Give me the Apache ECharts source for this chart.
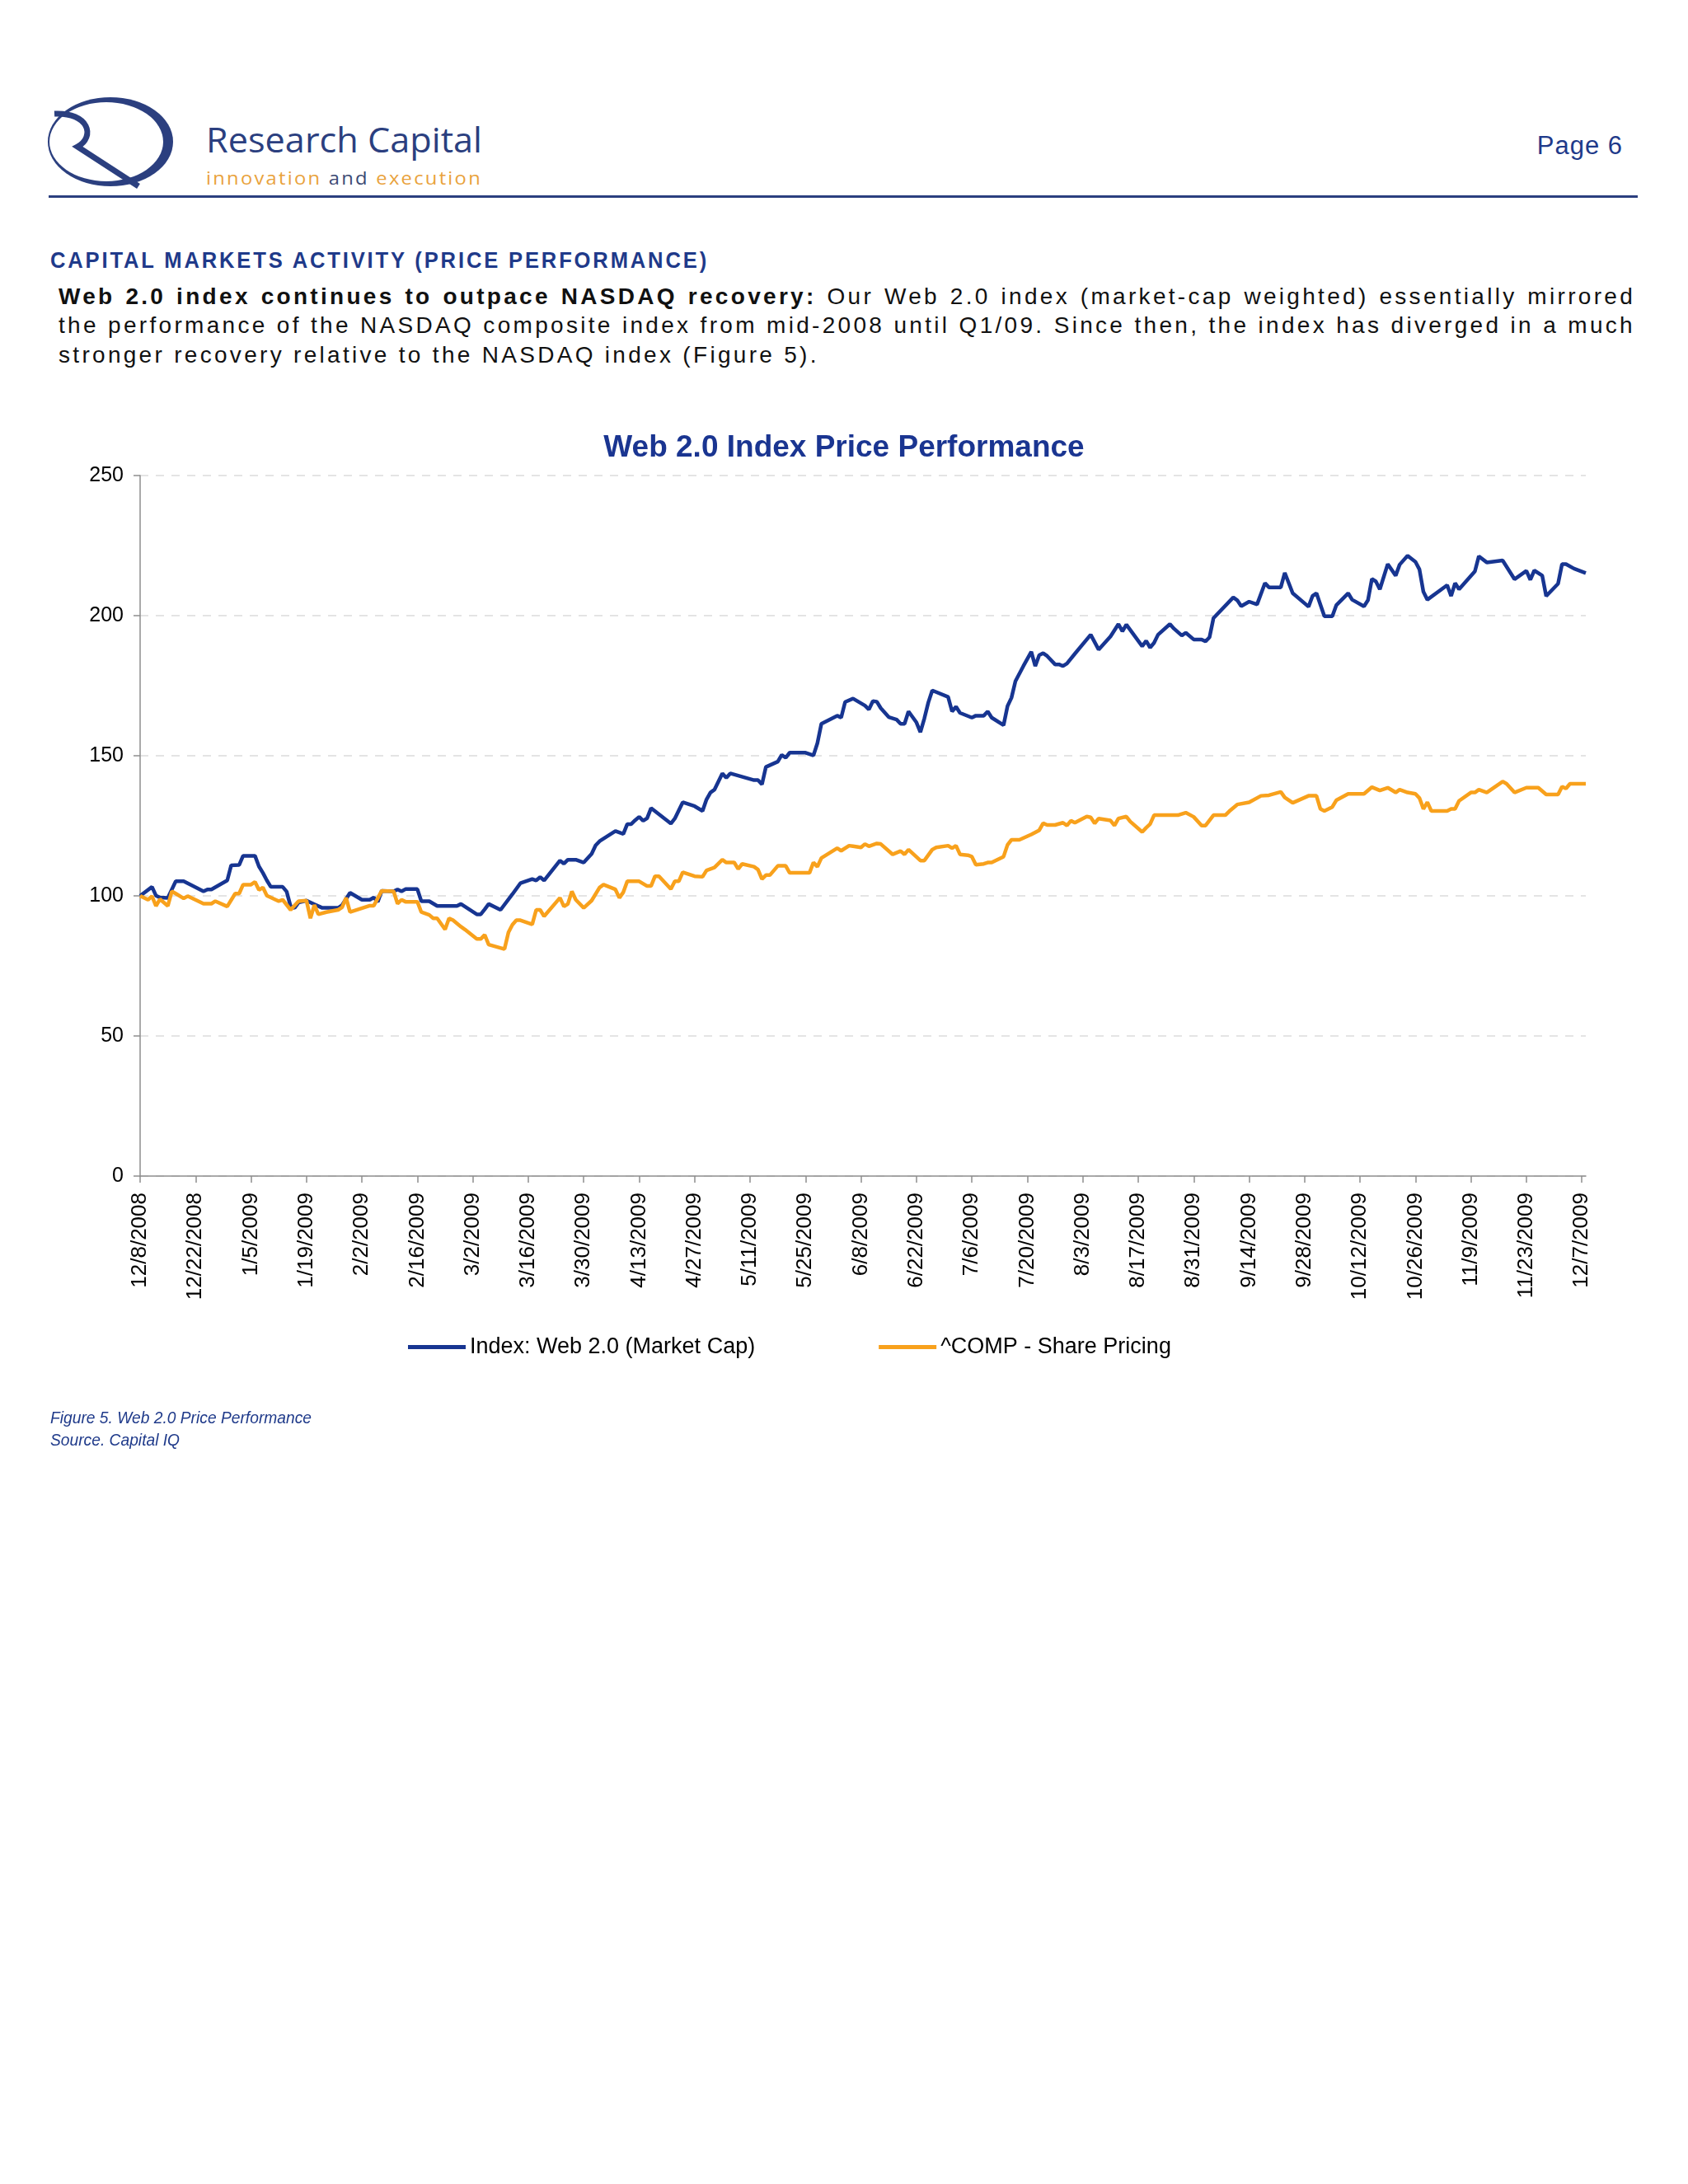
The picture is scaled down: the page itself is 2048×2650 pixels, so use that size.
<!DOCTYPE html>
<html>
<head>
<meta charset="utf-8">
<script src="https://cdn.jsdelivr.net/npm/echarts/dist/echarts.min.js"></script>
<style>
html,body{margin:0;padding:0;background:#ffffff;}
body{width:2048px;height:2650px;position:relative;overflow:hidden;font-family:"Liberation Sans",Arial,Helvetica,sans-serif;}
.abs{position:absolute;white-space:nowrap;}
.fit{display:inline-block;transform-origin:0 0;}
#rc{left:250px;top:145px;font-family:"Open Sans","Noto Sans",sans-serif;font-size:42px;line-height:48px;color:#2b3f7f;}
#tag{left:250px;top:204px;font-family:"Open Sans","Noto Sans",sans-serif;font-size:21px;line-height:24px;color:#e9a23b;letter-spacing:2px;}
#tag span{color:#3b4a74;}
#page{right:79px;top:159px;font-size:31px;line-height:36px;color:#1f3a8a;letter-spacing:1px;}
#rule{left:59px;top:237px;width:1928px;height:3px;background:#2b3f7f;}
#sec{left:61px;top:300px;font-size:27px;line-height:32px;font-weight:bold;color:#1f3a8a;letter-spacing:3px;}
.pl{position:absolute;left:71px;width:1913px;font-size:28px;line-height:36px;color:#111;letter-spacing:3.3px;white-space:nowrap;}
.j{text-align:justify;text-align-last:justify;white-space:normal;}
#cap{left:61px;top:1706px;font-size:21px;line-height:27px;font-style:italic;color:#1f3a8a;}
#chart{position:absolute;left:0;top:480px;width:2048px;height:1240px;}
</style>
</head>
<body>
<svg class="abs" style="left:0;top:0" width="260" height="260" viewBox="0 0 260 260">
  <ellipse cx="134" cy="172" rx="76" ry="54" fill="#2b3f7f"/>
  <ellipse cx="129" cy="172" rx="69" ry="48" fill="#ffffff"/>
  <path d="M 66 138 C 108 136, 116 166, 94 178 L 168 226" fill="none" stroke="#2b3f7f" stroke-width="7"/>
</svg>
<div id="rc" class="abs fit">Research Capital</div>
<div id="tag" class="abs fit">innovation <span>and</span> execution</div>
<div id="page" class="abs">Page 6</div>
<div id="rule" class="abs"></div>
<div id="sec" class="abs fit">CAPITAL MARKETS ACTIVITY (PRICE PERFORMANCE)</div>
<div class="pl j" style="top:342px;"><b>Web 2.0 index continues to outpace NASDAQ recovery:</b> Our Web 2.0 index (market-cap weighted) essentially mirrored</div>
<div class="pl j" style="top:377px;">the performance of the NASDAQ composite index from mid-2008 until Q1/09. Since then, the index has diverged in a much</div>
<div class="pl" style="top:413px;">stronger recovery relative to the NASDAQ index (Figure 5).</div>
<div id="chart"></div>
<div id="cap" class="abs fit">Figure 5. Web 2.0 Price Performance<br>Source. Capital IQ</div>
<script>
// ---- Data ----
const xTickLabels = ['12/8/2008','12/22/2008','1/5/2009','1/19/2009','2/2/2009','2/16/2009','3/2/2009','3/16/2009','3/30/2009','4/13/2009','4/27/2009','5/11/2009','5/25/2009','6/8/2009','6/22/2009','7/6/2009','7/20/2009','8/3/2009','8/17/2009','8/31/2009','9/14/2009','9/28/2009','10/12/2009','10/26/2009','11/9/2009','11/23/2009','12/7/2009'];
const yTicks = [0,50,100,150,200,250];
const seriesNames = ['Index: Web 2.0 (Market Cap)','^COMP - Share Pricing'];

const webDates = [
'12/8/2008','12/11/2008','12/12/2008','12/13/2008','12/15/2008','12/17/2008','12/19/2008','12/24/2008','12/25/2008','12/26/2008','12/30/2008','12/31/2008',
'1/2/2009','1/3/2009','1/6/2009','1/7/2009','1/8/2009','1/9/2009','1/10/2009','1/13/2009','1/14/2009','1/15/2009','1/16/2009','1/17/2009','1/19/2009','1/21/2009','1/23/2009','1/27/2009','1/28/2009','1/30/2009',
'2/2/2009','2/4/2009','2/5/2009','2/6/2009','2/7/2009','2/10/2009','2/11/2009','2/12/2009','2/13/2009','2/16/2009','2/17/2009','2/19/2009','2/21/2009','2/26/2009','2/27/2009',
'3/3/2009','3/4/2009','3/5/2009','3/6/2009','3/9/2009','3/12/2009','3/14/2009','3/17/2009','3/18/2009','3/19/2009','3/20/2009','3/24/2009','3/25/2009','3/26/2009','3/28/2009','3/30/2009',
'4/1/2009','4/2/2009','4/3/2009','4/7/2009','4/9/2009','4/10/2009','4/11/2009','4/12/2009','4/13/2009','4/14/2009','4/15/2009','4/16/2009','4/21/2009','4/22/2009','4/24/2009','4/27/2009','4/29/2009','4/30/2009',
'5/1/2009','5/2/2009','5/4/2009','5/5/2009','5/6/2009','5/8/2009','5/12/2009','5/13/2009','5/14/2009','5/15/2009','5/18/2009','5/19/2009','5/20/2009','5/21/2009','5/25/2009','5/27/2009','5/28/2009','5/29/2009',
'6/2/2009','6/3/2009','6/4/2009','6/6/2009','6/9/2009','6/10/2009','6/11/2009','6/12/2009','6/13/2009','6/15/2009','6/17/2009','6/18/2009','6/19/2009','6/20/2009','6/22/2009','6/23/2009','6/24/2009','6/25/2009','6/26/2009','6/30/2009',
'7/1/2009','7/2/2009','7/3/2009','7/6/2009','7/7/2009','7/9/2009','7/10/2009','7/11/2009','7/14/2009','7/15/2009','7/16/2009','7/17/2009','7/19/2009','7/21/2009','7/22/2009','7/23/2009','7/24/2009','7/25/2009','7/27/2009','7/28/2009','7/29/2009','7/30/2009',
'8/1/2009','8/5/2009','8/7/2009','8/10/2009','8/12/2009','8/13/2009','8/14/2009','8/18/2009','8/19/2009','8/20/2009','8/21/2009','8/22/2009','8/25/2009','8/26/2009','8/28/2009','8/29/2009','8/31/2009',
'9/2/2009','9/3/2009','9/4/2009','9/5/2009','9/10/2009','9/11/2009','9/12/2009','9/14/2009','9/16/2009','9/18/2009','9/19/2009','9/22/2009','9/23/2009','9/25/2009','9/29/2009','9/30/2009',
'10/1/2009','10/3/2009','10/5/2009','10/6/2009','10/9/2009','10/10/2009','10/13/2009','10/14/2009','10/15/2009','10/16/2009','10/17/2009','10/19/2009','10/21/2009','10/22/2009','10/24/2009','10/26/2009','10/27/2009','10/28/2009','10/29/2009',
'11/3/2009','11/4/2009','11/5/2009','11/6/2009','11/10/2009','11/11/2009','11/13/2009','11/17/2009','11/20/2009','11/23/2009','11/24/2009','11/25/2009','11/27/2009','11/28/2009',
'12/1/2009','12/2/2009','12/3/2009','12/5/2009','12/8/2009'
];
const webValues = [
100,103.2,100.1,99.4,99.3,105.2,105.2,101.6,102.3,102.3,105.5,110.9,
111,114.3,114.3,110.5,108.2,105.5,103.2,103.2,101.5,96.2,95.7,97.6,98.3,97,95.7,95.7,96.7,101.1,
98.6,98.6,99.4,97.9,101.8,101.6,102.3,101.6,102.4,102.4,98.1,98.1,96.4,96.4,97.1,
93.4,93.4,95.2,97.1,95,100.6,104.5,106,105.5,106.7,105.5,112.6,111.5,112.9,112.9,111.9,
115,118,119.5,123.1,122.1,125.6,125.6,127,128.2,126.8,127.7,131.3,125.8,127.6,133.4,132,130.3,134.4,
136.9,137.9,143.7,142.1,143.7,142.9,141.3,141.3,139.8,146,147.9,150.3,149.3,151.1,151.1,150.1,154.5,161.4,
164.3,163.6,169.2,170.4,167.9,166.5,169.5,169.3,167,163.8,162.9,161.4,161.4,165.8,161.9,158.4,163.3,169,173.3,171,
165.8,167.5,165.3,163.6,164.3,164.3,165.8,163.6,160.9,167.7,170.7,176.6,182,187.1,182,185.9,186.6,185.6,182.6,182.6,182,182.9,
186.4,193.2,187.9,192.6,197,194.4,196.8,189.1,191,188.6,190.3,193.2,197,195.4,192.9,193.9,191.5,
191.5,190.8,192.3,199.1,206.5,205.5,203.4,205,204,211.6,210.1,210.1,215.3,208,203.2,207,
208,199.8,199.8,203.7,208,205.7,203.3,205.5,213.1,212.2,209.4,218.4,214.3,218.2,221.4,219.2,216.5,208.5,205.7,
210.9,207,211.6,209.4,215.8,221.2,219,219.7,213,216,212.8,216.1,214.3,207,
211.4,218.4,218.4,216.8,215.2
];

const compDates = [
'12/8/2008','12/10/2008','12/11/2008','12/12/2008','12/13/2008','12/15/2008','12/16/2008','12/17/2008','12/19/2008','12/20/2008','12/24/2008','12/26/2008','12/27/2008','12/30/2008',
'1/1/2009','1/2/2009','1/3/2009','1/5/2009','1/6/2009','1/7/2009','1/8/2009','1/9/2009','1/12/2009','1/13/2009','1/15/2009','1/17/2009','1/19/2009','1/20/2009','1/21/2009','1/22/2009','1/24/2009','1/27/2009','1/28/2009','1/29/2009','1/30/2009',
'2/4/2009','2/5/2009','2/7/2009','2/10/2009','2/11/2009','2/12/2009','2/13/2009','2/16/2009','2/17/2009','2/19/2009','2/20/2009','2/21/2009','2/23/2009','2/24/2009','2/25/2009','2/27/2009','2/28/2009',
'3/3/2009','3/4/2009','3/5/2009','3/6/2009','3/10/2009','3/11/2009','3/12/2009','3/13/2009','3/14/2009','3/17/2009','3/18/2009','3/19/2009','3/20/2009','3/24/2009','3/25/2009','3/26/2009','3/27/2009','3/28/2009','3/30/2009',
'4/1/2009','4/3/2009','4/4/2009','4/7/2009','4/8/2009','4/9/2009','4/10/2009','4/13/2009','4/15/2009','4/16/2009','4/17/2009','4/18/2009','4/21/2009','4/22/2009','4/23/2009','4/24/2009','4/27/2009','4/29/2009','4/30/2009',
'5/2/2009','5/4/2009','5/5/2009','5/7/2009','5/8/2009','5/9/2009','5/12/2009','5/13/2009','5/14/2009','5/15/2009','5/16/2009','5/18/2009','5/20/2009','5/21/2009','5/26/2009','5/27/2009','5/28/2009','5/29/2009',
'6/2/2009','6/3/2009','6/5/2009','6/6/2009','6/8/2009','6/9/2009','6/10/2009','6/12/2009','6/13/2009','6/16/2009','6/18/2009','6/19/2009','6/20/2009','6/23/2009','6/24/2009','6/26/2009','6/27/2009','6/30/2009',
'7/1/2009','7/2/2009','7/3/2009','7/5/2009','7/6/2009','7/7/2009','7/9/2009','7/10/2009','7/11/2009','7/14/2009','7/15/2009','7/16/2009','7/18/2009','7/21/2009','7/23/2009','7/24/2009','7/25/2009','7/27/2009','7/29/2009','7/30/2009','7/31/2009',
'8/1/2009','8/4/2009','8/5/2009','8/6/2009','8/7/2009','8/10/2009','8/11/2009','8/12/2009','8/14/2009','8/15/2009','8/18/2009','8/19/2009','8/20/2009','8/21/2009','8/27/2009','8/29/2009','8/31/2009',
'9/2/2009','9/3/2009','9/5/2009','9/8/2009','9/9/2009','9/11/2009','9/14/2009','9/17/2009','9/19/2009','9/22/2009','9/23/2009','9/25/2009','9/29/2009',
'10/1/2009','10/2/2009','10/3/2009','10/5/2009','10/6/2009','10/9/2009','10/13/2009','10/15/2009','10/17/2009','10/19/2009','10/21/2009','10/22/2009','10/24/2009','10/26/2009','10/27/2009','10/28/2009','10/29/2009','10/30/2009',
'11/3/2009','11/4/2009','11/5/2009','11/6/2009','11/9/2009','11/10/2009','11/11/2009','11/13/2009','11/17/2009','11/18/2009','11/20/2009','11/23/2009','11/26/2009','11/28/2009',
'12/1/2009','12/2/2009','12/3/2009','12/4/2009','12/8/2009'
];
const compValues = [
100,98.6,99.9,96.4,98.8,96.4,101.6,100.8,99.1,99.9,97.2,97.2,98.1,96.2,
100.8,100.8,104,104,105,102.1,103,100.1,98.1,98.6,95,98.1,98.3,92,96.7,93.4,94.2,95,95.9,99.3,94.2,
96.5,96.5,101.8,101.6,97.2,98.6,97.9,97.9,94.2,93.2,92,92,88,92,91.3,89,88,
84.6,84.6,86.1,82.6,81,87,89.7,91.3,91.3,89.8,95,95,92.7,99.3,96.2,97.1,101.6,98.6,95.7,
98.3,103,104,102.3,99.3,101.3,105.2,105.2,103.5,103.5,107,107,102.4,105.2,105.2,108.4,107,106.8,109.1,
110.1,112.9,111.9,111.9,109.6,111.4,110.4,109.4,106,107.4,107.4,110.7,110.7,108.2,108.2,111.9,110.4,113.5,
117,116.1,117.9,117.7,117.3,118.5,117.7,118.7,118.5,114.8,116,114.8,116.5,112.6,112.6,116.5,117.3,117.9,
117,117.9,114.8,114.5,114,111.1,111.4,111.9,111.9,114,118.2,120,120,121.9,123.4,125.9,125.3,125.3,126.1,125.1,126.8,
126.1,128.3,128,125.9,127.6,126.9,125.1,127.6,128.3,126.5,122.8,124.3,125.6,128.8,128.8,129.7,128.2,
125.1,125.1,128.8,128.8,130.2,132.6,133.4,135.7,135.9,137.1,135.1,133.2,135.7,
135.7,131,130.3,131.7,134.1,136.4,136.4,138.8,137.6,138.6,136.9,137.9,136.9,136.4,134.9,131,133.4,130.3,
130.3,131,131,133.9,136.9,136.9,137.9,136.9,140.8,140,136.9,138.6,138.6,136.2,
136.2,139,138.3,140,140
];

// ---- helpers ----
const BASE = Date.UTC(2008, 11, 8);
function dayOf(s){ const p = s.split('/').map(Number); return Math.round((Date.UTC(p[2], p[0]-1, p[1]) - BASE) / 86400000); }
const tickDays = xTickLabels.map(dayOf);
const xMax = dayOf('12/8/2009');
const webData = webDates.map((d,i) => [dayOf(d), webValues[i]]);
const compData = compDates.map((d,i) => [dayOf(d), compValues[i]]);

function fitWidth(id, w){ const el = document.getElementById(id); const r = el.getBoundingClientRect().width; el.style.transform = 'scaleX(' + (w / r) + ')'; }
fitWidth('rc', 335);
fitWidth('tag', 335);
fitWidth('sec', 799);
(function(){ const el = document.getElementById('cap');
  const probe = document.createElement('span'); probe.style.font = getComputedStyle(el).font; probe.style.position='absolute'; probe.style.visibility='hidden'; probe.style.whiteSpace='nowrap';
  probe.textContent = 'Figure 5. Web 2.0 Price Performance'; document.body.appendChild(probe);
  const w = probe.getBoundingClientRect().width; probe.remove(); el.style.transform = 'scaleX(' + (317 / w) + ')'; })();

const FONT = '"Liberation Sans", Arial, Helvetica, sans-serif';
const AXIS_GREY = '#8e8e8e';
const chart = echarts.init(document.getElementById('chart'), null, {renderer: 'canvas'});
chart.setOption({
  animation: false,
  backgroundColor: 'transparent',
  title: {
    text: 'Web 2.0 Index Price Performance', left: 'center', top: 45, padding: 0,
    textStyle: {fontFamily: FONT, fontSize: 37, fontWeight: 'bold', color: '#1a3591'}
  },
  grid: {left: 170, right: 124, top: 97, height: 850, containLabel: false},
  xAxis: {
    type: 'value', min: 0, max: xMax, interval: 14,
    axisLine: {show: true, lineStyle: {color: AXIS_GREY, width: 1.5}},
    axisTick: {show: true, length: 8, inside: false, lineStyle: {color: AXIS_GREY, width: 1.5}},
    axisLabel: {rotate: 90, margin: 20, fontSize: 26, color: '#000', fontFamily: FONT, showMaxLabel: false,
      formatter: v => (tickDays.indexOf(v) >= 0 ? xTickLabels[tickDays.indexOf(v)] : '')},
    splitLine: {show: false}
  },
  yAxis: {
    type: 'value', min: yTicks[0], max: yTicks[yTicks.length-1], interval: 50,
    axisLine: {show: true, lineStyle: {color: AXIS_GREY, width: 1.5}},
    axisTick: {show: true, length: 8, lineStyle: {color: AXIS_GREY, width: 1.5}},
    axisLabel: {fontSize: 25, color: '#000', fontFamily: FONT, margin: 20},
    splitLine: {show: true, lineStyle: {color: '#dcdcdc', width: 1.5, type: [10, 9]}}
  },
  legend: {
    left: 495, top: 1141, padding: 0, itemWidth: 70, itemHeight: 5, itemGap: 150, icon: 'rect',
    textStyle: {fontSize: 27, color: '#000', fontFamily: FONT},
    data: seriesNames
  },
  series: [
    {name: seriesNames[0], type: 'line', data: webData, symbol: 'none', showSymbol: false,
     lineStyle: {width: 4.5, color: '#173591'}, itemStyle: {color: '#173591'}, z: 2},
    {name: seriesNames[1], type: 'line', data: compData, symbol: 'none', showSymbol: false,
     lineStyle: {width: 4.5, color: '#f8a11c'}, itemStyle: {color: '#f8a11c'}, z: 3}
  ]
});
</script>
</body>
</html>
